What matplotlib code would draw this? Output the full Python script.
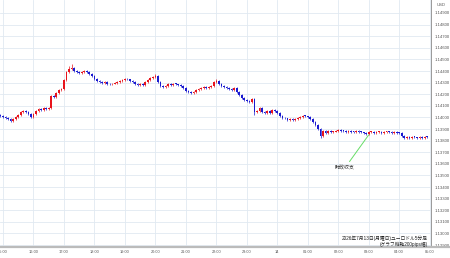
import matplotlib
matplotlib.use("Agg")
import matplotlib.pyplot as plt
import matplotlib.dates as mdates
from matplotlib.lines import Line2D
import numpy as np
import pandas as pd

# EUR/USD 5-minute closes, 2026-07-13 14:55 .. 2026-07-14 04:55
closes = [
    1.14012, 1.14004, 1.13995, 1.13986, 1.13969, 1.13986, 1.14004, 1.14021, 1.14047, 1.14055,
    1.14047, 1.14029, 1.14004, 1.14029, 1.14055, 1.14072, 1.14064, 1.14081, 1.14072, 1.14081,
    1.14185, 1.14176, 1.14210, 1.14236, 1.14245, 1.14322, 1.14391, 1.14417, 1.14426, 1.14400,
    1.14391, 1.14383, 1.14391, 1.14400, 1.14391, 1.14374, 1.14357, 1.14331, 1.14314, 1.14305,
    1.14297, 1.14305, 1.14288, 1.14285, 1.14290, 1.14297, 1.14305, 1.14314, 1.14322, 1.14331,
    1.14328, 1.14314, 1.14305, 1.14288, 1.14279, 1.14288, 1.14279, 1.14305, 1.14322, 1.14340,
    1.14348, 1.14357, 1.14305, 1.14271, 1.14262, 1.14271, 1.14288, 1.14279, 1.14288, 1.14286,
    1.14279, 1.14271, 1.14254, 1.14228, 1.14219, 1.14210, 1.14219, 1.14236, 1.14245, 1.14254,
    1.14262, 1.14254, 1.14262, 1.14271, 1.14305, 1.14314, 1.14288, 1.14271, 1.14262, 1.14254,
    1.14245, 1.14236, 1.14254, 1.14219, 1.14193, 1.14167, 1.14150, 1.14141, 1.14133, 1.14159,
    1.14047, 1.14055, 1.14081, 1.14047, 1.14038, 1.14055, 1.14038, 1.14064, 1.14055, 1.14038,
    1.14012, 1.13995, 1.13992, 1.13978, 1.13986, 1.13978, 1.13986, 1.13995, 1.14004, 1.14012,
    1.14010, 1.14004, 1.13986, 1.13960, 1.13935, 1.13900, 1.13840, 1.13883, 1.13866, 1.13883,
    1.13874, 1.13876, 1.13883, 1.13891, 1.13883, 1.13882, 1.13874, 1.13883, 1.13874, 1.13872,
    1.13883, 1.13874, 1.13872, 1.13866, 1.13857, 1.13874, 1.13876, 1.13866, 1.13874, 1.13876,
    1.13866, 1.13874, 1.13876, 1.13874, 1.13866, 1.13874, 1.13866, 1.13864, 1.13840, 1.13823,
    1.13831, 1.13823, 1.13831, 1.13829, 1.13823, 1.13831, 1.13823, 1.13831, 1.13829,
]
first_open = 1.14020
# notable wicks (candle index -> price)
wick_highs = {27: 1.14440, 28: 1.14460, 61: 1.14374, 85: 1.14331, 20: 1.14193}
wick_lows = {100: 1.14021, 126: 1.13823, 4: 1.13960}

price_ticks = [1.129, 1.130, 1.131, 1.132, 1.133, 1.134, 1.135, 1.136, 1.137, 1.138, 1.139,
               1.140, 1.141, 1.142, 1.143, 1.144, 1.145, 1.146, 1.147, 1.148, 1.149]

note_text = "財政収支"
note_time = "2026-07-14 02:13"
note_price = 1.13564
note_target_time = "2026-07-14 03:00"
note_target_price = 1.13850

caption_1 = "2026年7月13日(月曜日)ユーロドル5分足"
caption_2 = "(グラフ縦軸200pips幅)"

plt.rcParams["font.family"] = ["Liberation Sans", "Noto Sans CJK JP", "DejaVu Sans"]

times = pd.date_range("2026-07-13 14:55", periods=len(closes), freq="5min")
opens = [first_open] + closes[:-1]

c = np.array(closes)
o = np.array(opens)
top = np.maximum(o, c)
bot = np.minimum(o, c)
highs = top + 0.00006
lows = bot - 0.00006
for k, v in wick_highs.items():
    highs[k] = v
for k, v in wick_lows.items():
    lows[k] = v
up = c >= o
colors = np.where(up, "#e8141c", "#1a1ad0")
heights = np.maximum(top - bot, 0.00007)

fig = plt.figure(figsize=(4.5, 2.58), dpi=100)
ax = fig.add_axes([0, 11 / 258, 431 / 450, 247 / 258])

ax.vlines(times, lows, highs, colors=colors, lw=0.5, zorder=2)
ax.bar(times, heights, bottom=bot, width=3.4 / 1440, color=colors, linewidth=0, zorder=3)

ax.set_ylim(1.12883, 1.15012)
ax.set_xlim(pd.Timestamp("2026-07-13 14:54:06"), pd.Timestamp("2026-07-14 05:02:30"))

ax.set_yticks(price_ticks)
ax.yaxis.set_major_formatter(plt.FuncFormatter(lambda v, p: f"{v:.5f}"))
ax.yaxis.tick_right()

ax.xaxis.set_major_locator(mdates.HourLocator())


def fmt_time(v, pos):
    d = mdates.num2date(v)
    return "14" if d.hour == 0 else d.strftime("%H:%M")


ax.xaxis.set_major_formatter(plt.FuncFormatter(fmt_time))

ax.tick_params(axis="y", length=0, pad=2.5, labelsize=3.1, labelcolor="#555555")
ax.tick_params(axis="x", length=0, pad=2.2, labelsize=2.8, labelcolor="#555555")
ax.grid(True, color="#e1e9f1", lw=0.6, zorder=0)
ax.set_axisbelow(True)

for s in ["top", "left"]:
    ax.spines[s].set_visible(False)
ax.spines["right"].set_color("#999999")
ax.spines["right"].set_linewidth(0.7)
ax.spines["bottom"].set_visible(False)
fig.add_artist(Line2D([0, 1], [11 / 258, 11 / 258], color="#bbbbbb", lw=1.6))

fig.text(437 / 450, 1 - 5 / 258, "USD", fontsize=3, color="#555555", ha="left", va="center")

ax.annotate(note_text, xy=(pd.Timestamp(note_target_time), note_target_price),
            xytext=(pd.Timestamp(note_time), note_price),
            fontsize=3.6, color="#333333", ha="center", va="center",
            arrowprops=dict(arrowstyle="-", color="#66dd66", lw=0.7, shrinkA=1, shrinkB=0))

fig.text(428 / 450, 1 - 238 / 258, caption_1, fontsize=3.4, color="#222222", ha="right", va="center")
fig.text(428 / 450, 1 - 244.5 / 258, caption_2, fontsize=3.4, color="#222222", ha="right", va="center")

fig.savefig("out.png", dpi=100)
